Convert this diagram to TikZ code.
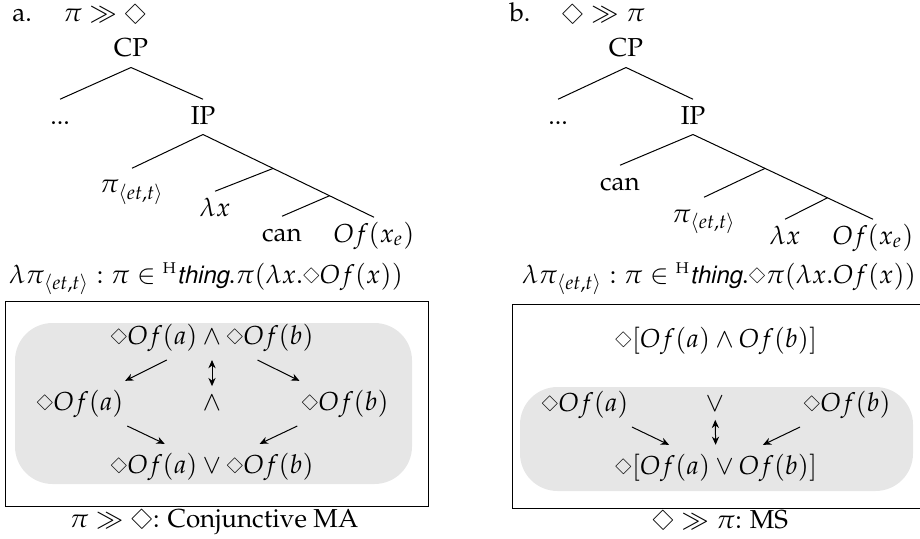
\documentclass[tikz,border=0pt]{standalone}
\usepackage[T1]{fontenc}
\usepackage{mathpazo}
\usepackage[scaled=0.92]{helvet}
\usepackage{amssymb}
\usepackage{xcolor}
\usepackage{tikz}
\usetikzlibrary{arrows.meta, calc}
\definecolor{boxgray}{RGB}{230,230,230}
\newcommand{\dmd}{\mathord{\raisebox{0.12ex}{\scalebox{0.62}{\rotatebox[origin=c]{45}{$\square$}}}}}
\newcommand{\Dmd}{\mathord{\scalebox{0.8}{\rotatebox[origin=c]{45}{$\square$}}}}
\newcommand{\thng}{{}^{\scriptscriptstyle\mathrm{H}}\textsf{\itshape thing}}

\begin{document}
\begin{tikzpicture}[x=0.4pt, y=-0.4pt, font=\fontsize{10.4pt}{12.5pt}\selectfont,
  tn/.style={anchor=base, text height=7.7pt, text depth=2pt, inner sep=2pt},
  fm/.style={anchor=base},
  arr/.style={-{Stealth[length=3.3pt, width=2.9pt]}},
  darr/.style={{Stealth[length=3.3pt, width=2.9pt]}-{Stealth[length=3.3pt, width=2.9pt]}}]
  \useasboundingbox (0,0) rectangle (920,539);
  % a. tree
  \node[anchor=base west, inner sep=0pt] (ttla) at (12,22) {a.\hspace{1.2em}$\pi \gg \Dmd$};
  \node[tn] (cpa) at (131,57) {CP};
  \node[tn] (dta) at (60,124) {...};
  \node[tn] (ipa) at (203,124) {IP};
  \node[tn] (pia) at (132,193) {$\pi_{\langle et,t\rangle}$};
  \node[tn] (lxa) at (215,216) {$\lambda x$};
  \node[tn] (cna) at (282,241) {can};
  \node[tn] (ofa) at (374,242) {$Of(x_e)$};
  \coordinate (ja1) at ($(ipa.south)!0.41!(ofa.north)$);
  \coordinate (ja2) at ($(ipa.south)!0.74!(ofa.north)$);
  \draw (cpa.south) -- (dta.north);
  \draw (cpa.south) -- (ipa.north);
  \draw (ipa.south) -- (pia.north);
  \draw (ipa.south) -- (ofa.north);
  \draw (ja1) -- (lxa.north);
  \draw (ja2) -- (cna.north);
  \node[fm] (fma) at (206,283) {$\lambda\pi_{\langle et,t\rangle} : \pi \in \thng.\pi(\lambda x.\dmd Of(x))$};
  \draw (5,301) rectangle (428,506);
  \fill[boxgray, rounded corners=15pt] (15,323) rectangle (412,484);
  \node[fm] (ca) at (212,344) {$\dmd Of(a) \wedge \dmd Of(b)$};
  \node[fm] (la) at (80,410) {$\dmd Of(a)$};
  \node[fm] (aa) at (212,410) {$\wedge$};
  \node[fm] (ra) at (345,410) {$\dmd Of(b)$};
  \node[fm] (da) at (212,473) {$\dmd Of(a) \vee \dmd Of(b)$};
  \draw[arr] (ca) -- (la);
  \draw[arr] (ca) -- (ra);
  \draw[darr] (ca) -- (aa);
  \draw[arr] (la) -- (da);
  \draw[arr] (ra) -- (da);
  \node[fm] (capa) at (214,527) {$\pi \gg \Dmd$: Conjunctive MA};
  % b. tree
  \node[anchor=base west, inner sep=0pt] (ttlb) at (509,22) {b.\hspace{1.2em}$\Dmd \gg \pi$};
  \node[tn] (cpb) at (626,57) {CP};
  \node[tn] (dtb) at (558,124) {...};
  \node[tn] (ipb) at (693,124) {IP};
  \node[tn] (cnb) at (620,190) {can};
  \node[tn] (pib) at (704,222) {$\pi_{\langle et,t\rangle}$};
  \node[tn] (lxb) at (785,244) {$\lambda x$};
  \node[tn] (ofb) at (873,244) {$Of(x_e)$};
  \coordinate (jb1) at ($(ipb.south)!0.40!(ofb.north)$);
  \coordinate (jb2) at ($(ipb.south)!0.747!(ofb.north)$);
  \draw (cpb.south) -- (dtb.north);
  \draw (cpb.south) -- (ipb.north);
  \draw (ipb.south) -- (cnb.north);
  \draw (ipb.south) -- (ofb.north);
  \draw (jb1) -- (pib.north);
  \draw (jb2) -- (lxb.north);
  \node[fm] (fmb) at (719,283) {$\lambda\pi_{\langle et,t\rangle} : \pi \in \thng.\dmd\pi(\lambda x.Of(x))$};
  \draw (512,304) rectangle (926,508);
  \fill[boxgray, rounded corners=15pt] (520,387) rectangle (913,491);
  \node[fm] (tb) at (716,347) {$\dmd[Of(a) \wedge Of(b)]$};
  \node[fm] (lb) at (585,411) {$\dmd Of(a)$};
  \node[fm] (ob) at (715,411) {$\vee$};
  \node[fm] (rb) at (847,411) {$\dmd Of(b)$};
  \node[fm] (db) at (716,474) {$\dmd[Of(a) \vee Of(b)]$};
  \draw[arr] (lb) -- (db);
  \draw[arr] (rb) -- (db);
  \draw[darr] (ob) -- (db);
  \node[fm] (capb) at (720,528) {$\Dmd \gg \pi$: MS};
\end{tikzpicture}
\end{document}
